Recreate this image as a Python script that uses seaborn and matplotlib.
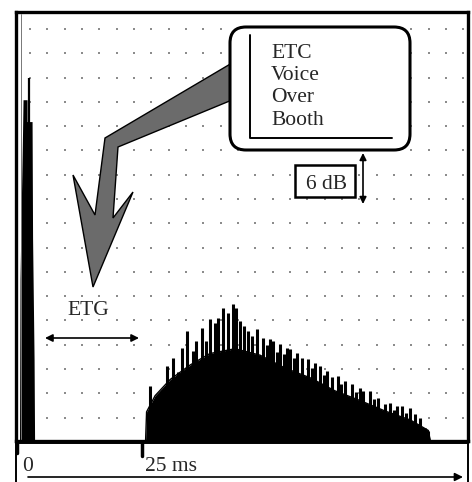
import numpy as np
import matplotlib
matplotlib.use("Agg")
import matplotlib.pyplot as plt
import seaborn as sns
from matplotlib.patches import FancyBboxPatch, Polygon, Rectangle

# ETC of a voice over booth, time in ms, level in dB above floor
direct_ms = [0.8, 0.9, 1.4, 1.5, 2.3, 2.3, 3.3, 3.4, 3.7, 3.8]
direct_db = [0.0, 20.0, 38.0, 42.1, 42.1, 39.4, 39.4, 25.0, 10.0, 0.0]
direct_peak_ms = 2.55
direct_peak_db = 44.8

floor_ms = [25.8, 26.0, 27.7, 30.7, 34.7, 38.6, 43.6, 48.6, 53.6, 58.6,
            63.5, 68.5, 73.5, 78.5, 82.1, 82.5]
floor_db = [0.0, 3.6, 5.6, 7.6, 9.4, 10.8, 11.4, 10.6, 9.0, 7.8,
            6.2, 5.0, 3.7, 2.6, 1.3, 0.0]

peak_ms = [26.7, 27.9, 29.0, 30.1, 31.3, 32.2, 33.1, 34.1, 35.3, 35.9,
           37.1, 37.9, 38.6, 39.6, 40.2, 41.2, 42.2, 43.2, 43.8, 44.6,
           45.4, 46.2, 47.0, 48.0, 49.2, 50.0, 50.6, 51.2, 52.0, 52.6,
           53.3, 54.0, 54.6, 55.3, 56.0, 57.0, 58.2, 58.9, 59.6, 60.6,
           61.3, 62.0, 62.9, 64.1, 64.8, 65.5, 66.9, 67.7, 68.5, 69.1,
           70.5, 71.3, 72.1, 73.5, 74.5, 75.2, 75.9, 76.9, 77.7, 78.5,
           79.5, 80.5, 81.5, 82.1]
peak_db = [6.8, 5.4, 5.6, 9.3, 10.2, 8.5, 11.5, 13.6, 11.1, 12.3,
           14.0, 12.4, 15.1, 14.6, 15.2, 16.4, 15.8, 16.9, 16.4, 14.8,
           14.2, 13.6, 13.0, 13.8, 12.7, 11.8, 12.6, 12.3, 11.0, 12.0,
           10.8, 11.5, 11.4, 10.2, 10.9, 10.2, 10.1, 9.0, 9.6, 9.3,
           8.2, 8.6, 7.9, 8.0, 7.0, 7.4, 7.0, 6.0, 6.5, 6.2,
           6.2, 5.2, 5.3, 4.6, 4.7, 3.8, 4.3, 4.3, 3.5, 4.1,
           3.3, 2.8, 1.6, 1.2]

sns.set_style("white")
plt.rcParams['font.family'] = ['Liberation Serif', 'DejaVu Serif']

fig = plt.figure(figsize=(4.72, 4.82), dpi=100)
ax = fig.add_axes([16/472, 1 - 441/482, 452/472, 429/482])
ax.set_xlim(0, 90)
ax.set_ylim(0, 53)

# dotted grid
gx, gy = np.meshgrid(2.8 + 3.45*np.arange(26), 2.9 + 3.0*np.arange(17))
ax.scatter(gx.ravel(), gy.ravel(), marker='s', s=4, color='#8c8c8c', linewidths=0, zorder=1)

# direct sound
ax.fill(direct_ms, direct_db, color='black', lw=0, zorder=3)
ax.vlines([direct_peak_ms], 0, [direct_peak_db], color='black', lw=1.6, zorder=3)

# diffuse decay
ax.fill_between(floor_ms, 0, floor_db, color='black', lw=0, zorder=2)
sns.lineplot(x=floor_ms, y=floor_db, color='black', lw=1, ax=ax, sort=False, estimator=None, zorder=2)
ax.vlines(peak_ms, 0, peak_db, color='black', lw=2.2, zorder=3)

ax.set_xticks([])
ax.set_yticks([])
ax.set_xlabel("")
ax.set_ylabel("")
for s in ax.spines.values():
    s.set_visible(True)
    s.set_color('black')
    s.set_linewidth(2.4)

# time strip below
sx = fig.add_axes([16/472, -0.02, 452/472, (482 - 443)/482 + 0.02])
sx.set_xticks([])
sx.set_yticks([])
for s in sx.spines.values():
    s.set_visible(True)
    s.set_color('black')
    s.set_linewidth(1.4)

# overlay in pixel units for the annotations
ov = fig.add_axes([0, 0, 1, 1])
ov.set_xlim(0, 472)
ov.set_ylim(482, 0)
ov.axis('off')

ov.plot([20.5, 20.5], [14, 439], color='#777777', lw=0.7)

arrow = Polygon([(232, 63), (105, 138), (95, 215), (73, 175), (93, 287),
                 (133, 192), (113, 218), (118, 147), (232, 100)],
                closed=True, fc='#6b6b6b', ec='black', lw=1.0, zorder=5)
ov.add_patch(arrow)

box = FancyBboxPatch((230, 27), 180, 123, boxstyle="round,pad=0,rounding_size=16",
                     fc='white', ec='black', lw=2.2, zorder=6)
ov.add_patch(box)
ov.plot([250, 250, 392], [35, 138, 138], color='black', lw=1.4, zorder=7)
for word, yb in zip(["ETC", "Voice", "Over", "Booth"], [58, 80, 102, 125]):
    ov.text(271, yb, word, fontsize=15.5, ha='left', va='baseline', zorder=7)

ov.add_patch(Rectangle((295, 165), 60, 32, fc='white', ec='black', lw=1.8, zorder=6))
ov.text(326, 189, "6 dB", fontsize=15.5, ha='center', va='baseline', zorder=7)
ov.annotate('', xy=(363, 153), xytext=(363, 204),
            arrowprops=dict(arrowstyle='<|-|>', color='black', lw=1.2,
                            mutation_scale=10, shrinkA=0, shrinkB=0))

ov.text(88, 315, "ETG", fontsize=15.5, ha='center', va='baseline')
ov.annotate('', xy=(45, 338), xytext=(139, 338),
            arrowprops=dict(arrowstyle='<|-|>', color='black', lw=1.2,
                            mutation_scale=11, shrinkA=0, shrinkB=0))

ov.plot([17, 17], [443, 453], color='black', lw=2.5)
ov.plot([142, 142], [443, 456], color='black', lw=2.5)
ov.text(22, 471, "0", fontsize=15.5, ha='left', va='baseline')
ov.text(145, 471, "25 ms", fontsize=15.5, ha='left', va='baseline')
ov.annotate('', xy=(463, 477), xytext=(28, 477),
            arrowprops=dict(arrowstyle='-|>', color='black', lw=1.2,
                            mutation_scale=12, shrinkA=0, shrinkB=0))

fig.savefig("out.png", dpi=100)
